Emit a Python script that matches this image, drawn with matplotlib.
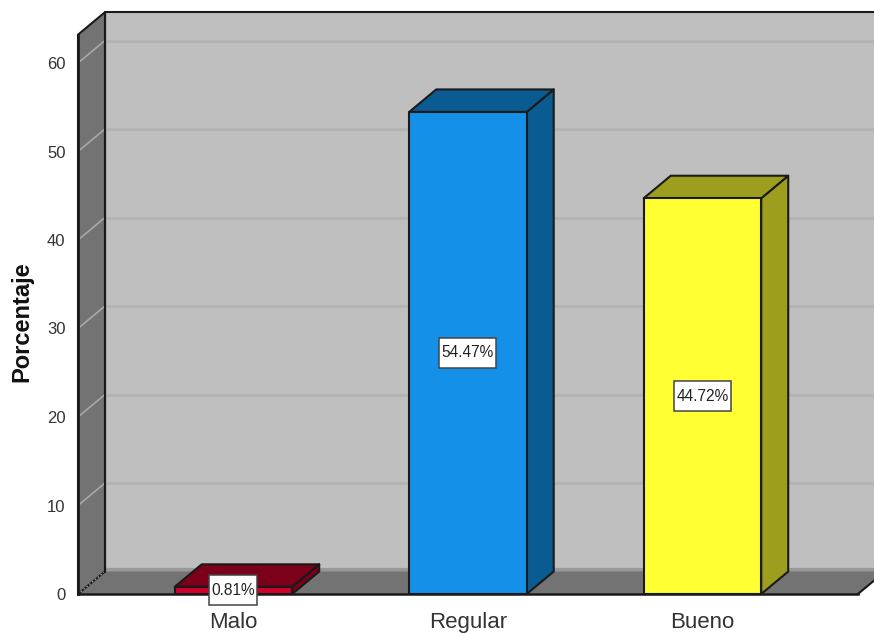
#!/usr/bin/env python3
"""Bar chart of percentages with a fake 3D box, SPSS look."""

import matplotlib
matplotlib.use('Agg')
import matplotlib.pyplot as plt
from matplotlib.patches import Polygon, Rectangle

categories = ['Malo', 'Regular', 'Bueno']
values = [0.81, 54.47, 44.72]
labels = ['0.81%', '54.47%', '44.72%']
front_colors = ['#d4002c', '#1490e8', '#ffff33']
dark_colors = ['#7c0019', '#0a5b92', '#9e9e1e']
y_ticks = [0, 10, 20, 30, 40, 50, 60]

plt.rcParams['font.family'] = ['Liberation Sans', 'DejaVu Sans']

W, H = 874, 635
PX_X = 234.5   # pixels per category
PX_Y = 8.85    # pixels per percent
DX = 27 / PX_X  # oblique depth in data units
DY = 22.5 / PX_Y
BAR = 117.5 / PX_X
Y_TOP = 63.2
X_L = -0.663
X_R = 2.663

fig = plt.figure(figsize=(W / 100, H / 100), dpi=100)
ax = fig.add_axes([78 / W, (H - 594) / H, (W - 78) / W, 581 / H])
ax.set_xlim(X_L, X_L + (W - 78) / PX_X)
ax.set_ylim(0, 581 / PX_Y)
for s in ax.spines.values():
    s.set_visible(False)


def poly(pts, face, edge='#1a1a1a', lw=1.5, z=1):
    ax.add_patch(Polygon(pts, closed=True, facecolor=face, edgecolor=edge,
                         linewidth=lw, zorder=z, clip_on=False, joinstyle='round'))


right = X_L + (W - 78) / PX_X + 0.05
top_back = Y_TOP + DY

# back wall, floor and side wall
poly([(X_L + DX, DY), (right, DY), (right, top_back), (X_L + DX, top_back)], '#bfbfbf', z=1)
poly([(X_L, 0), (X_R, 0), (X_R + DX, DY), (X_L + DX, DY)], '#737373', edge='none', z=1.5)
ax.plot([X_L + DX, right], [DY + 0.2, DY + 0.2], color='#999999', lw=3, zorder=1.4)
poly([(X_L, 0), (X_L + DX, DY), (X_L + DX, top_back), (X_L, Y_TOP)], '#737373', z=2)
ax.plot([X_L, X_R], [0, 0], color='#1a1a1a', lw=1.8, zorder=2.5, clip_on=False)
ax.plot([X_R, X_R + DX], [0, DY], color='#1a1a1a', lw=1.5, zorder=2.5, clip_on=False)
ax.plot([X_L + DX, X_L + DX], [DY, top_back], color='#1a1a1a', lw=1.5, zorder=2.5)
ax.plot([X_L, X_L], [0, Y_TOP], color='#1a1a1a', lw=2, zorder=2.5, clip_on=False)

# grid on the back wall and side wall
for t in y_ticks:
    if t > 0:
        ax.plot([X_L + DX, right], [t + DY, t + DY], color='#b3b3b3', lw=2, zorder=1.2)
        ax.plot([X_L, X_L + DX], [t, t + DY], color='#a8a8a8', lw=1.2, zorder=2.2)
    else:
        ax.plot([X_L, X_L + DX], [t, t + DY], color='#a8a8a8', lw=1, ls=':', zorder=2.2)

# bars
box_w = 57 / PX_X
box_h = 30 / PX_Y
for i, (v, f, d, lab) in enumerate(zip(values, front_colors, dark_colors, labels)):
    x0, x1 = i - BAR / 2, i + BAR / 2
    poly([(x1, 0), (x1 + DX, DY), (x1 + DX, v + DY), (x1, v)], d, z=3)
    poly([(x0, v), (x1, v), (x1 + DX, v + DY), (x0 + DX, v + DY)], d, z=3)
    poly([(x0, 0), (x1, 0), (x1, v), (x0, v)], f, z=3.5)
    w = box_w if i else 48 / PX_X
    ax.add_patch(Rectangle((i - w / 2, v / 2 - box_h / 2), w, box_h, facecolor='white',
                           edgecolor='#444444', linewidth=1.1, zorder=4.5, clip_on=False))
    ax.text(i, v / 2, lab, ha='center', va='center', fontsize=11.2, color='#222222', zorder=5)

ax.set_xticks(range(len(categories)))
ax.set_xticklabels(categories, fontsize=16, color='#333333')
ax.tick_params(axis='x', length=0, pad=13)
ax.set_yticks(y_ticks)
ax.tick_params(axis='y', length=0, pad=9, labelsize=12, labelcolor='#333333')
fig.text(22 / W, 1 - 322 / H, 'Porcentaje', rotation=90, ha='center', va='center',
         fontsize=17, fontweight='bold', color='#111111')

fig.savefig('out.png', dpi=100)
